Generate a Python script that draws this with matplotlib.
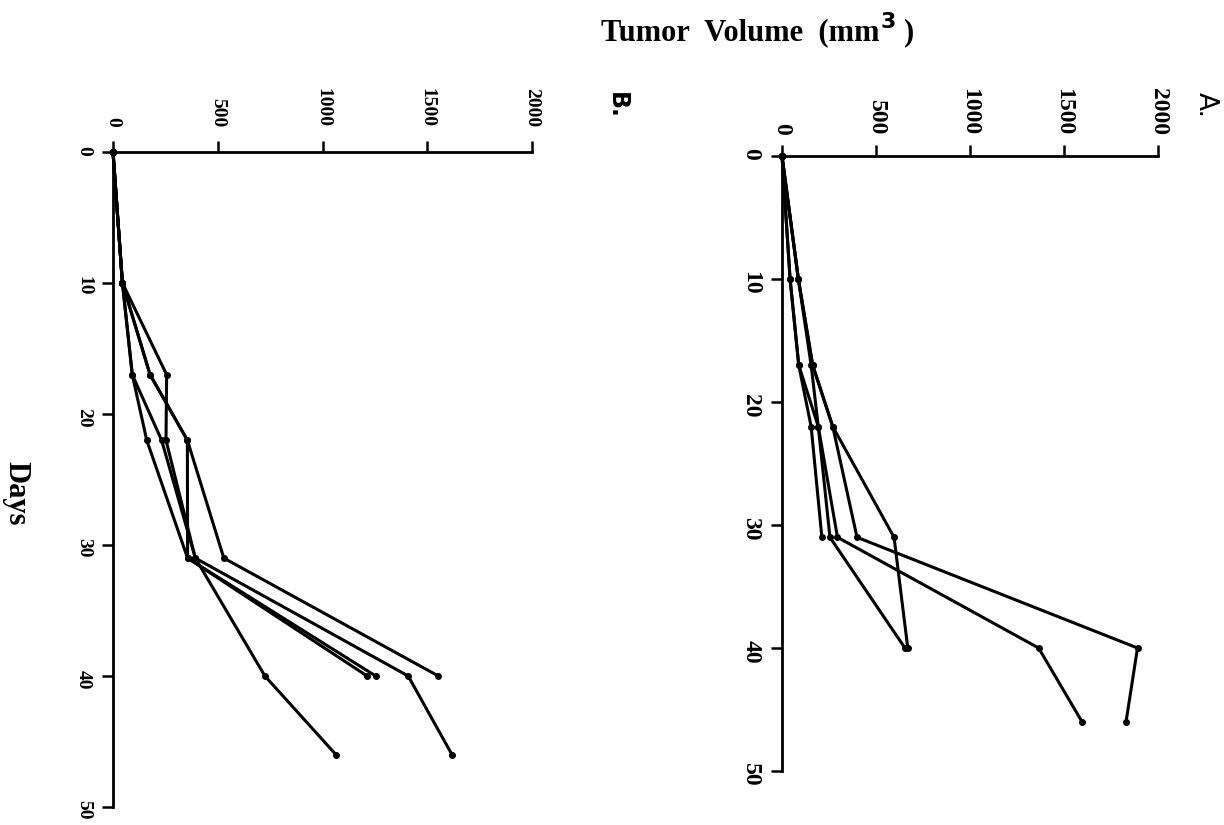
import matplotlib.pyplot as plt

# tick values / labels
vol_ticks = [0, 500, 1000, 1500, 2000]
vol_labels = ['0', '500', '1000', '1500', '2000']
day_ticks = [0, 10, 20, 30, 40, 50]
day_labels = ['0', '10', '20', '30', '40', '50']

# measurement days
days = [0, 10, 17, 22, 31, 40, 46]

# panel A: tumor volume (mm3) per animal
a_1 = [0, 43, 89, 155, 212]
a_2 = [0, 43, 89, 193, 255, 654]
a_3 = [0, 87, 155, 193, 295, 1365, 1596]
a_4 = [0, 87, 163, 270, 399, 1891, 1830]
a_5 = [0, 87, 163, 270, 596, 669]

# panel B
b_1 = [0, 45, 92, 161, 356, 1213]
b_2 = [0, 45, 92, 232, 393, 725, 1064]
b_3 = [0, 45, 177, 355, 356, 1254]
b_4 = [0, 45, 256, 253, 393, 1409, 1618]
b_5 = [0, 45, 177, 355, 529, 1553]

W, H = 1224, 825
fig = plt.figure(figsize=(W / 100, H / 100), dpi=100)
axB = fig.add_axes([113 / W, 1 - 807 / H, 419 / W, 655 / H])
axA = fig.add_axes([782 / W, 1 - 771 / H, 376 / W, 615 / H])

serif = 'Liberation Serif'


def style(ax, fs, xpad, ypad):
    ax.set_xlim(0, 2000)
    ax.set_ylim(50, 0)
    ax.xaxis.tick_top()
    ax.spines['right'].set_visible(False)
    ax.spines['bottom'].set_visible(False)
    ax.spines['top'].set_linewidth(2)
    ax.spines['left'].set_linewidth(2)
    ax.set_xticks(vol_ticks)
    ax.set_xticklabels(vol_labels, rotation=-90, fontfamily=serif,
                       fontweight='bold', fontsize=fs)
    ax.set_yticks(day_ticks)
    ax.set_yticklabels(day_labels, rotation=-90, fontfamily=serif,
                       fontweight='bold', fontsize=fs)
    ax.tick_params(axis='x', direction='out', length=8, width=1.8, pad=xpad)
    ax.tick_params(axis='y', direction='out', length=8, width=1.8, pad=ypad)


for ax, series in [(axA, [a_1, a_2, a_3, a_4, a_5]),
                   (axB, [b_1, b_2, b_3, b_4, b_5])]:
    for vals in series:
        ax.plot(vals, days[:len(vals)], color='black', lw=2.2,
                marker='o', ms=4, clip_on=False)

style(axB, 14, 10, 7)
style(axA, 17, 7, 7)

# panel letters
fig.text(1206 / W, 1 - 105 / H, 'A.', rotation=-90, fontsize=19,
         family='DejaVu Sans', ha='center', va='center')
fig.text(617 / W, 1 - 105 / H, 'B.', rotation=-90, fontsize=17,
         family='DejaVu Sans', fontweight='bold', ha='center', va='center')

# axis titles
fig.text(16 / W, 1 - 493 / H, 'Days', rotation=-90, fontsize=22,
         family=serif, fontweight='bold', ha='center', va='center')

t1 = fig.text(601 / W, 1 - 40 / H, 'Tumor  Volume  (mm', fontsize=22,
              family=serif, fontweight='bold', ha='left', va='baseline')
fig.canvas.draw()
bb = t1.get_window_extent()
t2 = fig.text(bb.x1 / W + 1 / W, 1 - 28 / H, '3', fontsize=16,
              family='DejaVu Sans', fontweight='bold', ha='left', va='baseline')
fig.canvas.draw()
bb2 = t2.get_window_extent()
fig.text(bb2.x1 / W + 8 / W, 1 - 40 / H, ')', fontsize=22,
         family=serif, fontweight='bold', ha='left', va='baseline')

fig.savefig('out.png', dpi=100)
